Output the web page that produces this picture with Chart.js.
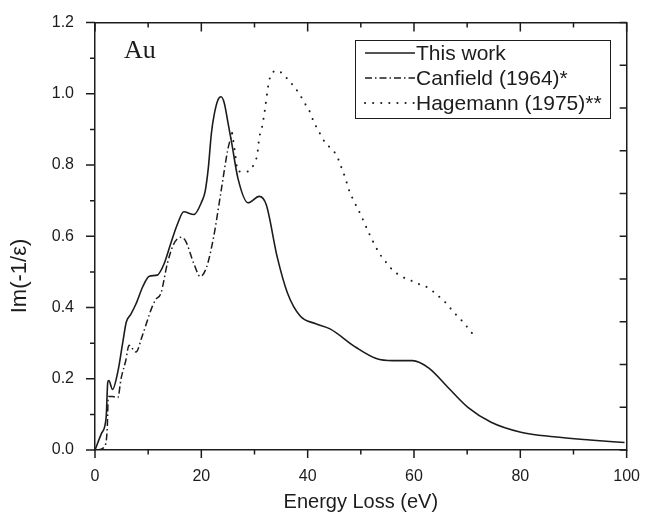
<!DOCTYPE html>
<html>
<head>
<meta charset="utf-8">
<title>Au energy loss function</title>
<script src="https://cdn.jsdelivr.net/npm/chart.js@4.4.1/dist/chart.umd.min.js"></script>
<style>
  html, body { margin: 0; padding: 0; background: #fff; }
  #wrap { width: 649px; height: 518px; }
</style>
</head>
<body>
<div id="wrap"><canvas id="elf" width="649" height="518"></canvas></div>
<script>
// Energy loss function of gold, three data sets

const thisWorkX = [0, 1.2, 2.1, 2.4, 2.6, 3.3, 4.3, 5.2, 5.9, 6.7, 7.7, 9.0, 10.2, 11.7, 13.0, 14.2,
  15.5, 16.7, 18.6, 20.1, 20.7, 21.3, 21.9, 22.4, 23.1, 23.7, 24.3, 25.0, 25.7, 26.9, 28.8,
  30.9, 32.2, 34.3, 36.2, 38.6, 41.4, 44.2, 49.2, 52.9, 56.0, 59.7, 62.8, 66.5, 70.2, 74.5,
  80.1, 86.3, 93.1, 99.6];
const thisWorkY = [0, 0.046, 0.092, 0.19, 0.195, 0.17, 0.22, 0.30, 0.36, 0.38, 0.41, 0.459, 0.488, 0.491, 0.523, 0.578,
  0.634, 0.669, 0.661, 0.698, 0.725, 0.79, 0.89, 0.94, 0.982, 0.992, 0.975, 0.92, 0.863, 0.762, 0.694,
  0.712, 0.689, 0.54, 0.441, 0.376, 0.355, 0.34, 0.287, 0.257, 0.251, 0.251, 0.23, 0.174, 0.119, 0.078,
  0.05, 0.037, 0.028, 0.021];

const canfieldX = [0.5, 1.8, 2.3, 2.5, 3.3, 4.3, 4.9, 5.8, 6.4, 7.7, 8.9, 10.8, 11.4, 12.4, 13.6,
  14.8, 16.1, 17.0, 18.6, 19.8, 21.0, 22.3, 23.8, 25.0, 25.8];
const canfieldY = [0, 0.01, 0.06, 0.15, 0.15, 0.147, 0.2, 0.252, 0.294, 0.275, 0.321, 0.404, 0.422, 0.44, 0.523,
  0.578, 0.597, 0.588, 0.523, 0.487, 0.514, 0.597, 0.735, 0.845, 0.89];

const hagemannX = [25.8, 26.3, 26.9, 28.8, 29.9, 30.5, 30.9, 31.4, 31.9, 32.6, 33.0, 34.3, 36.0, 37.4,
  38.6, 39.6, 40.5, 41.1, 42.1, 42.9, 44.2, 45.5, 46.1, 46.7, 47.3, 47.9, 48.6, 50.0, 51.5, 53.5,
  54.7, 56.0, 57.7, 59.4, 60.9, 62.6, 64.3, 66.0, 67.4, 69.0, 70.3, 71.6];
const hagemannY = [0.89, 0.84, 0.782, 0.782, 0.803, 0.828, 0.877, 0.905, 0.95, 1.024, 1.049, 1.065, 1.045, 1.021,
  0.996, 0.97, 0.947, 0.923, 0.895, 0.872, 0.849, 0.826, 0.803, 0.78, 0.753, 0.725, 0.702, 0.66, 0.61, 0.552,
  0.528, 0.505, 0.487, 0.476, 0.466, 0.456, 0.436, 0.413, 0.388, 0.363, 0.34, 0.315];

const seriesNames = ["This work", "Canfield (1964)*", "Hagemann (1975)**"];

const INK = "#1c1c1c";
const SANS = "'Liberation Sans', Arial, Helvetica, sans-serif";

const pts = (xs, ys) => xs.map((x, i) => ({ x, y: ys[i] }));

// ── ticks drawn on every side of the frame (Origin style) ──────────────────
const frameTicks = {
  id: "frameTicks",
  afterDraw(chart) {
    const c = chart.ctx;
    const s = chart.scales;
    c.save();
    c.strokeStyle = INK;
    c.lineWidth = 1.5;
    c.beginPath();
    // bottom: outward
    s.x.ticks.forEach(t => {
      const px = s.x.getPixelForValue(t.value);
      const len = t.value % 20 === 0 ? 8 : 4.5;
      c.moveTo(px, s.x.top); c.lineTo(px, s.x.top + len);
    });
    // top: inward
    s.x2.ticks.forEach(t => {
      const px = s.x2.getPixelForValue(t.value);
      const len = t.value % 20 === 0 ? 9 : 5;
      c.moveTo(px, s.x2.bottom); c.lineTo(px, s.x2.bottom + len);
    });
    // left: outward
    s.y.ticks.forEach(t => {
      const py = s.y.getPixelForValue(t.value);
      const len = Math.round(t.value * 10) % 2 === 0 ? 9 : 5;
      c.moveTo(s.y.right, py); c.lineTo(s.y.right - len, py);
    });
    // right: inward
    s.y2.ticks.forEach(t => {
      const py = s.y2.getPixelForValue(t.value);
      c.moveTo(s.y2.left, py); c.lineTo(s.y2.left - 7, py);
    });
    c.stroke();
    c.restore();
  },
};

// ── framed legend, sample label and rotated y title ─────────────────────────
const annotations = {
  id: "annotations",
  afterDraw(chart) {
    const c = chart.ctx;
    c.save();

    // element label
    c.fillStyle = INK;
    c.font = "26px 'Liberation Serif', 'Times New Roman', serif";
    c.textBaseline = "alphabetic";
    c.textAlign = "left";
    c.fillText("Au", 124, 58);

    // y axis title
    c.save();
    c.translate(20, 276);
    c.rotate(-Math.PI / 2);
    c.font = "22px " + SANS;
    c.textAlign = "center";
    c.textBaseline = "middle";
    c.fillText("Im(-1/\u03b5)", 0, 0);
    c.restore();

    // legend box
    const box = { x: 355.5, y: 40.5, w: 255, h: 78 };
    c.strokeStyle = INK;
    c.lineWidth = 1;
    c.fillStyle = "#fff";
    c.fillRect(box.x, box.y, box.w, box.h);
    c.strokeRect(box.x, box.y, box.w, box.h);

    const rows = [53, 78, 103];
    chart.data.datasets.forEach((ds, i) => {
      c.beginPath();
      c.setLineDash(ds.borderDash || []);
      c.lineCap = ds.borderCapStyle || "butt";
      c.lineWidth = ds.borderWidth;
      c.strokeStyle = ds.borderColor;
      c.moveTo(365, rows[i]); c.lineTo(415, rows[i]);
      c.stroke();
      c.setLineDash([]);
      c.fillStyle = INK;
      c.font = "21px " + SANS;
      c.textAlign = "left";
      c.textBaseline = "middle";
      c.fillText(ds.label, 416, rows[i] + 1);
    });
    c.restore();
  },
};

const fixedSize = (prop, size) => scale => { scale[prop] = size; };

new Chart(document.getElementById("elf"), {
  type: "line",
  data: {
    datasets: [
      {
        label: seriesNames[0],
        data: pts(thisWorkX, thisWorkY),
        borderColor: INK,
        borderWidth: 1.6,
        tension: 0.3,
        cubicInterpolationMode: "monotone",
      },
      {
        label: seriesNames[1],
        data: pts(canfieldX, canfieldY),
        borderColor: INK,
        borderWidth: 1.5,
        borderDash: [7, 3, 1.5, 3],
        tension: 0.3,
        cubicInterpolationMode: "monotone",
      },
      {
        label: seriesNames[2],
        data: pts(hagemannX, hagemannY),
        borderColor: INK,
        borderWidth: 2,
        borderDash: [0.1, 8],
        borderCapStyle: "round",
        tension: 0.3,
        cubicInterpolationMode: "monotone",
      },
    ],
  },
  options: {
    responsive: false,
    animation: false,
    layout: { padding: 0 },
    elements: { point: { radius: 0 } },
    plugins: {
      legend: { display: false },
      tooltip: { enabled: false },
    },
    scales: {
      x: {
        type: "linear",
        position: "bottom",
        min: 0, max: 100,
        grid: { display: false },
        border: { display: true, color: INK, width: 1.5 },
        ticks: {
          stepSize: 10,
          color: INK,
          font: { family: SANS, size: 16 },
          padding: 9,
          maxRotation: 0,
          callback: v => (v % 20 === 0 ? v : ""),
        },
        title: {
          display: true,
          text: "Energy Loss (eV)",
          color: INK,
          font: { family: SANS, size: 20 },
          padding: { top: 8 },
        },
        afterFit: fixedSize("height", 68),
      },
      x2: {
        type: "linear",
        position: "top",
        min: 0, max: 100,
        grid: { display: false },
        border: { display: true, color: INK, width: 1.5 },
        ticks: { stepSize: 10, display: false },
        afterFit: fixedSize("height", 14),
      },
      y: {
        position: "left",
        min: 0, max: 1.2,
        grid: { display: false },
        border: { display: true, color: INK, width: 1.5 },
        ticks: {
          stepSize: 0.1,
          color: INK,
          font: { family: SANS, size: 16 },
          padding: 13,
          callback: v => (Math.round(v * 10) % 2 === 0 ? v.toFixed(1) : ""),
        },
        afterFit: fixedSize("width", 95),
      },
      y2: {
        position: "right",
        min: 0, max: 1.2,
        grid: { display: false },
        border: { display: true, color: INK, width: 1.5 },
        ticks: { stepSize: 0.12, display: false },
        afterFit: fixedSize("width", 15),
      },
    },
  },
  plugins: [frameTicks, annotations],
});
</script>
</body>
</html>
